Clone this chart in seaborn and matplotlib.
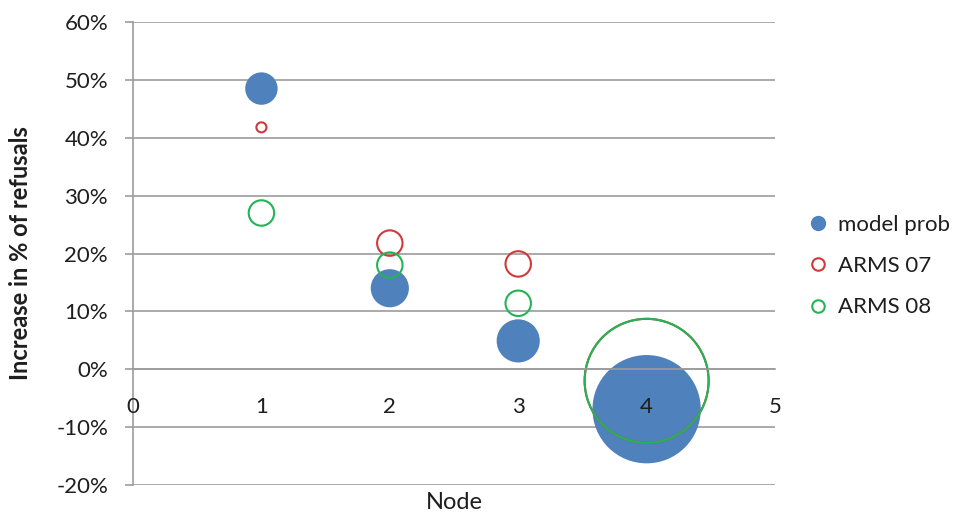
import matplotlib
matplotlib.use('Agg')
import matplotlib.pyplot as plt
from matplotlib.lines import Line2D
from matplotlib.ticker import PercentFormatter
import pandas as pd
import seaborn as sns

# Data (y in %, bubble size in arbitrary area units)
nodes = [1, 2, 3, 4]
model_prob = [48.5, 14.0, 4.9, -6.9]
model_size = [2.6, 3.6, 4.6, 29.0]
arms07 = [41.8, 21.8, 18.2, -2.0]
arms07_size = [0.25, 1.6, 1.6, 38.0]
arms08 = [27.0, 18.0, 11.4, -2.0]
arms08_size = [1.6, 1.6, 1.6, 38.0]

series_names = ['model prob', 'ARMS 07', 'ARMS 08']
colors = {'model prob': '#4F81BD', 'ARMS 07': '#D0393B', 'ARMS 08': '#22B455'}

df = pd.concat([
    pd.DataFrame({'node': nodes, 'value': model_prob, 'size': model_size, 'series': 'model prob'}),
    pd.DataFrame({'node': nodes, 'value': arms07, 'size': arms07_size, 'series': 'ARMS 07'}),
    pd.DataFrame({'node': nodes, 'value': arms08, 'size': arms08_size, 'series': 'ARMS 08'}),
])

sns.set_theme(style='white')
plt.rcParams['font.family'] = ['Lato', 'DejaVu Sans']
plt.rcParams['axes.unicode_minus'] = False

GRID = '#9C9C9C'
TEXT = '#1E1E1E'
FS = 16
SMAX = 7970  # marker area (pt^2) for the largest bubble
SNORM = (0, 38.0)

fig = plt.figure(figsize=(9.66, 5.18), dpi=100)
ax = fig.add_axes([0.1377, 0.0637, 0.6646, 0.8938])

for name in series_names:
    sub = df[df['series'] == name]
    c = colors[name]
    if name == 'model prob':
        sns.scatterplot(data=sub, x='node', y='value', size='size', sizes=(0, SMAX),
                        size_norm=SNORM, color=c, edgecolor='none', linewidth=0,
                        alpha=1, legend=False, ax=ax)
    else:
        sns.scatterplot(data=sub, x='node', y='value', size='size', sizes=(0, SMAX),
                        size_norm=SNORM, color=c, facecolors='none', edgecolor=c,
                        linewidth=1.5, alpha=1, legend=False, ax=ax)

ax.set_xlim(0, 5)
ax.set_ylim(-20, 60)
ax.set_xticks(range(0, 6))
ax.set_yticks(range(-20, 61, 10))
ax.yaxis.set_major_formatter(PercentFormatter(100, decimals=0))

ax.yaxis.grid(True, color=GRID, linewidth=1.2)
ax.set_axisbelow(True)
ax.xaxis.set_zorder(3)

for s in ['top', 'right']:
    ax.spines[s].set_visible(False)
ax.spines['left'].set_color(GRID)
ax.spines['left'].set_linewidth(1.2)
ax.spines['bottom'].set_position(('data', 0))
ax.spines['bottom'].set_color(GRID)
ax.spines['bottom'].set_linewidth(1.2)

ax.tick_params(axis='y', left=True, length=6, width=1.2, color=GRID,
               labelsize=FS, labelcolor=TEXT, pad=12)
ax.tick_params(axis='x', bottom=False, length=0, labelsize=FS, labelcolor=TEXT, pad=20)

ax.set_xlabel('Node', fontsize=17, color=TEXT)
ax.xaxis.set_label_coords(0.5, -0.016)
ax.set_ylabel('Increase in % of refusals', fontsize=17, fontweight='bold', color=TEXT)
ax.yaxis.set_label_coords(-0.158, 0.5)

handles = [
    Line2D([], [], marker='o', linestyle='none', markersize=10,
           markerfacecolor=colors['model prob'], markeredgecolor=colors['model prob']),
    Line2D([], [], marker='o', linestyle='none', markersize=9,
           markerfacecolor='none', markeredgecolor=colors['ARMS 07'], markeredgewidth=1.5),
    Line2D([], [], marker='o', linestyle='none', markersize=9,
           markerfacecolor='none', markeredgecolor=colors['ARMS 08'], markeredgewidth=1.5),
]
fig.legend(handles=handles, labels=series_names, loc='center left',
           bbox_to_anchor=(0.817, 0.486), frameon=False, fontsize=FS,
           handlelength=0.8, handletextpad=0.5, labelspacing=0.95, labelcolor=TEXT)

fig.savefig('out.png', dpi=100)
